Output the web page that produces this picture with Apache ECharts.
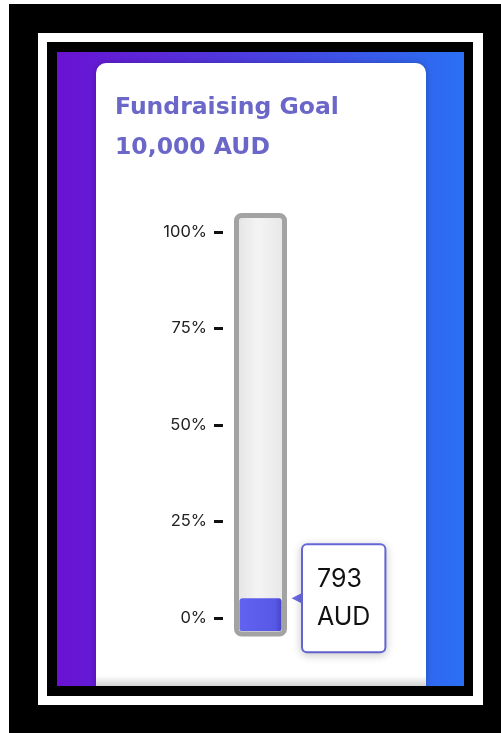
<!DOCTYPE html>
<html><head><meta charset="utf-8">
<script src="https://cdn.jsdelivr.net/npm/echarts@6/dist/echarts.min.js"></script>
<style>html,body{margin:0;padding:0;background:#fff;} #c{width:501px;height:733px;}</style>
</head><body><div id="c"></div>
<script>
// ---- data ----
const titleText = 'Fundraising Goal';
const goalLabel = '10,000 AUD';
const currency = 'AUD';
const categories = ['Raised'];
const goalValues = [10000];
const raisedValues = [793];
const tickPercents = [0, 25, 50, 75, 100];

// ---- layout helpers (styles only) ----
const goal = goalValues[0];
const pxPerUnit = 413 / goal;
const dataMin = -3 / pxPerUnit;
const dataMax = goal + 2.5 / pxPerUnit;
const pctPerPx = 1 / 3.86;
const pctMin = -16 * pctPerPx;
const pctMax = 100 + 16.5 * pctPerPx;

const chart = echarts.init(document.getElementById('c'), null, {renderer: 'canvas'});
const accent = '#6b67c9';
const font = 'Inter';
const titleFont = 'DejaVu Sans';

chart.setOption({
  animation: false,
  graphic: [
    {type: 'rect', z: -10, shape: {x: 9, y: 4, width: 492, height: 729}, style: {fill: '#000'}},
    {type: 'rect', z: -10, shape: {x: 38, y: 33, width: 445, height: 672}, style: {fill: '#fff'}},
    {type: 'rect', z: -10, shape: {x: 47, y: 42, width: 426, height: 654}, style: {fill: '#000'}},
    {type: 'rect', z: -10, shape: {x: 57, y: 52, width: 407, height: 634}, style: {
      fill: new echarts.graphic.LinearGradient(0, 0, 1, 0, [
        {offset: 0, color: '#6a12d2'}, {offset: 0.5, color: '#4a40e0'}, {offset: 1, color: '#2a70f4'}])}},
    {type: 'rect', z: -9, shape: {x: 96, y: 63, width: 330, height: 623, r: [10, 10, 0, 0]}, style: {
      fill: '#fff', shadowBlur: 6, shadowColor: 'rgba(0,0,0,0.25)'}},
    {type: 'rect', z: -8, shape: {x: 96, y: 676, width: 330, height: 10}, style: {
      fill: new echarts.graphic.LinearGradient(0, 0, 0, 1, [
        {offset: 0, color: 'rgba(0,0,0,0)'}, {offset: 1, color: 'rgba(0,0,0,0.18)'}])}}
  ],
  title: [
    {text: titleText, left: 110, top: 91, textStyle: {fontFamily: titleFont, fontSize: 23.5, fontWeight: 'bold', color: accent}},
    {text: goalLabel, left: 110, top: 131, textStyle: {fontFamily: titleFont, fontSize: 23.5, fontWeight: 'bold', color: accent}}
  ],
  grid: {left: 236.5, top: 215.5, width: 48, bottom: 733 - 634, containLabel: false},
  xAxis: [
    {type: 'category', data: categories, show: false},
    {type: 'category', data: categories, show: false}
  ],
  yAxis: [
    {type: 'value', position: 'left', offset: 13.5, min: pctMin, max: pctMax,
      axisLine: {show: false}, splitLine: {show: false},
      axisTick: {show: true, customValues: tickPercents, length: 9, lineStyle: {width: 3, color: '#111'}},
      axisLabel: {customValues: tickPercents, formatter: v => v + '%', margin: 16,
        fontFamily: font, fontSize: 16.5, color: '#222'}},
    {type: 'value', show: false, min: dataMin, max: dataMax}
  ],
  series: [
    {name: 'Goal', type: 'bar', xAxisIndex: 1, yAxisIndex: 1, data: goalValues, barWidth: 48,
      itemStyle: {color: 'rgba(0,0,0,0)'}, silent: true,
      showBackground: true,
      backgroundStyle: {
        color: new echarts.graphic.LinearGradient(0, 0, 1, 0, [
          {offset: 0, color: '#e2e2e2'}, {offset: 0.45, color: '#f4f4f4'}, {offset: 1, color: '#e6e6e6'}]),
        borderColor: '#a3a3a3', borderWidth: 5, borderRadius: 5}},
    {name: 'Raised', type: 'bar', xAxisIndex: 0, yAxisIndex: 1, data: raisedValues, barWidth: 42, z: 5,
      itemStyle: {
        color: new echarts.graphic.LinearGradient(0, 0, 1, 0, [
          {offset: 0, color: '#6262f0'}, {offset: 0.85, color: '#5858e6'}, {offset: 1, color: '#4444c4'}]),
        borderRadius: [3, 3, 2, 2]},
      label: {show: true, position: [63.5, 0], align: 'left', verticalAlign: 'middle',
        formatter: p => p.value + '\n' + currency,
        fontFamily: font, fontSize: 25, lineHeight: 38, color: '#111',
        backgroundColor: '#fff', borderColor: '#6b6be3', borderWidth: 2, borderRadius: 4,
        padding: [15, 14, 15, 14], shadowBlur: 8, shadowColor: 'rgba(0,0,0,0.18)', shadowOffsetY: 2},
      markPoint: {
        symbol: 'triangle', symbolSize: [12, 12], symbolRotate: 90, symbolOffset: [37, 0],
        itemStyle: {color: '#6b6be3'}, label: {show: false}, silent: true,
        data: [{coord: [0, raisedValues[0]]}]
      }}
  ]
});
</script></body></html>
